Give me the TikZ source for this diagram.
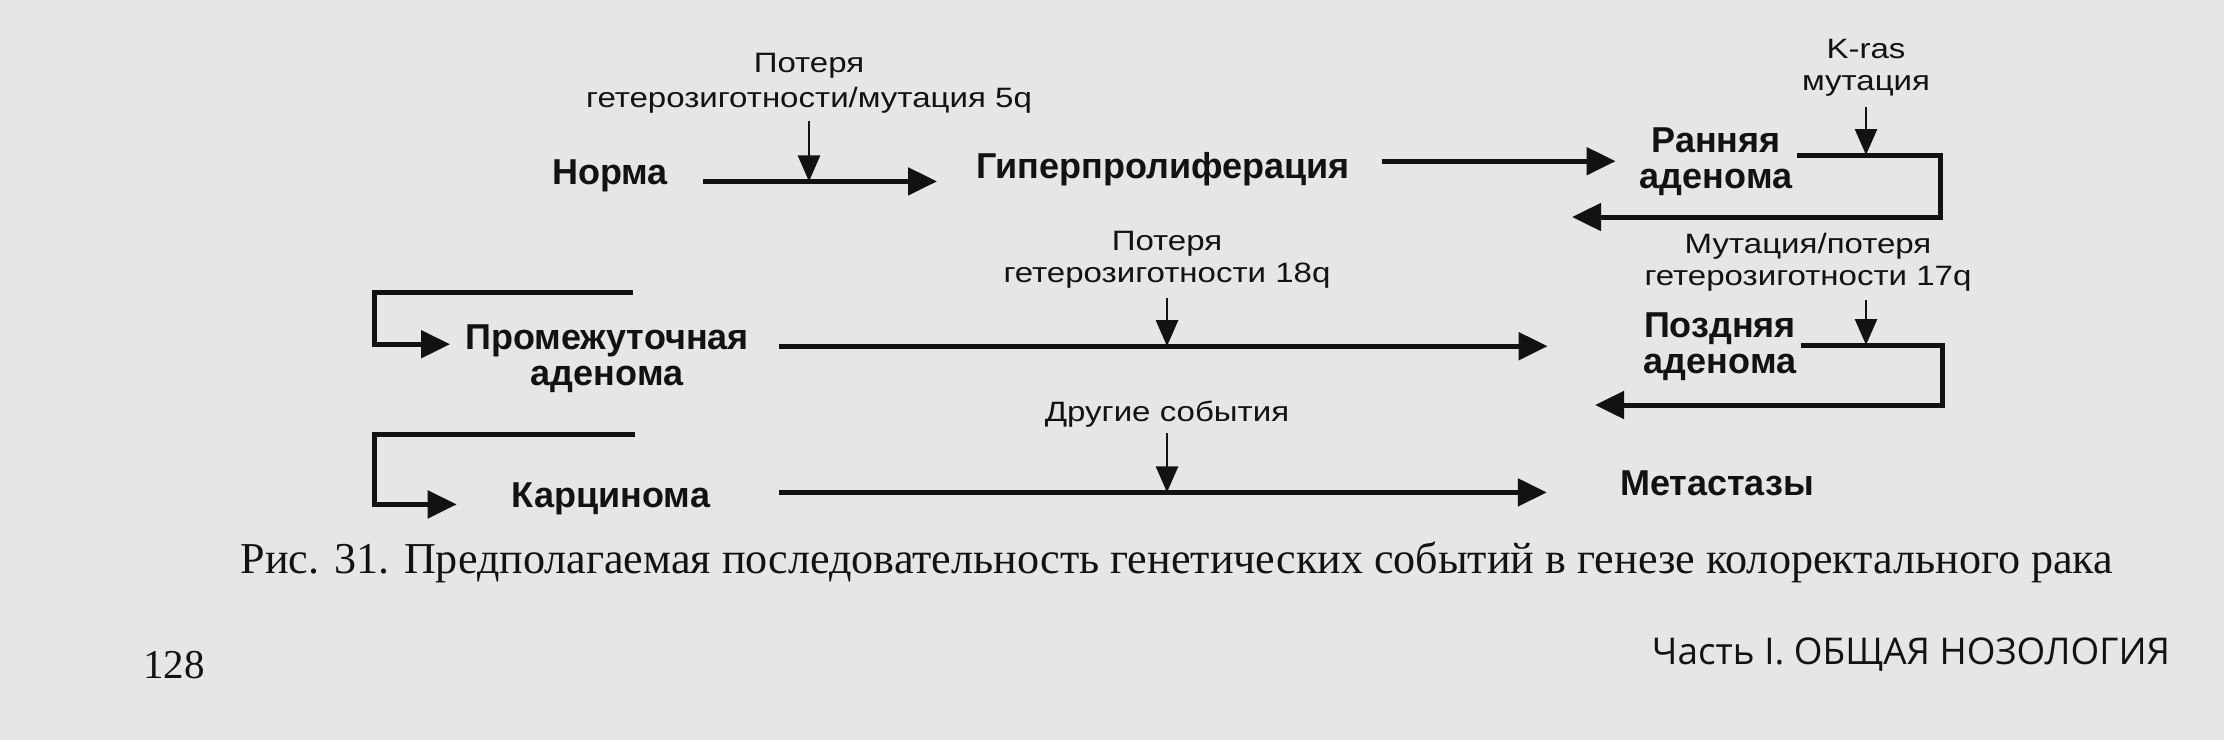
\documentclass[tikz,border=0pt]{standalone}
\usepackage{fontspec}
\setmainfont{Liberation Serif}
\newfontfamily\nodefont{Liberation Sans}
\newfontfamily\labfont[FakeStretch=1.18]{Liberation Sans}
\newfontfamily\partfont{Open Sans}
\usetikzlibrary{arrows.meta}
\definecolor{paper}{RGB}{230,230,230}
\definecolor{ink}{RGB}{18,18,18}
\begin{document}
\begin{tikzpicture}[x=1pt,y=-1pt,
  stage/.style={inner sep=0pt, anchor=base, align=center, text=ink,
    font=\nodefont\bfseries\fontsize{36pt}{36pt}\selectfont},
  single/.style={stage, text height=0.72em, text depth=0.2em},
  evt/.style={inner sep=0pt, anchor=base, align=center, text=ink,
    font=\labfont\fontsize{28pt}{32pt}\selectfont},
  flow/.style={draw=ink, line width=5pt, -{Triangle[length=29pt,width=27pt]}},
  trigger/.style={draw=ink, line width=2.6pt, -{Triangle[length=26pt,width=22pt]}},
  wrap/.style={flow, shorten <=5pt},
  plain/.style={inner sep=0pt, anchor=base, text=ink}
]
\fill[paper] (0,0) rectangle (2224,740);
\useasboundingbox (0,0) rectangle (2224,740);

% stages (multi-line nodes: base anchor = baseline of the last line)
\node[single] (norma) at (610,184) {Норма};
\node[single] (hyper) at (1163,178) {Гиперпролиферация};
\node[stage]  (early) at (1716,188) {Ранняя\\аденома};
\node[stage]  (inter) at (607,385) {Промежуточная\\аденома};
\node[stage]  (late)  at (1720,373) {Поздняя\\аденома};
\node[single] (carc)  at (611,507) {Карцинома};
\node[single] (meta)  at (1717,495) {Метастазы};

% events
\node[evt, font=\labfont\fontsize{28pt}{35pt}\selectfont] (l5q) at (809,107) {Потеря\\гетерозиготности/мутация 5q};
\node[evt] (lkras)  at (1866,90)  {K-ras\\мутация};
\node[evt] (l18)    at (1167,282) {Потеря\\гетерозиготности 18q};
\node[evt] (l17)    at (1808,285) {Мутация/потеря\\гетерозиготности 17q};
\node[evt] (lother) at (1167,421) {Другие события};

% bend points and free ends
\coordinate (eb) at (1940,155);
\coordinate (e1) at (1572,217);
\coordinate (lb) at (1942,345);
\coordinate (l1) at (1595,405);
\coordinate (w2) at (633,292);
\coordinate (w3) at (635,434);

% main flow
\draw[flow, shorten <=35pt, shorten >=39pt] (norma.east) -- (norma.east -| hyper.west);
\draw[flow, shorten <=32pt, shorten >=24pt] (hyper.east |- early.west) -- (early.west);
\draw[wrap] (early.east |- eb) -- (eb) |- (e1);
\draw[flow, shorten >=15pt] (w2) -- ++(-259,0) |- ([yshift=14pt]inter.west);
\draw[flow, shorten <=30pt, shorten >=96pt] (inter.east |- late.west) -- (late.west);
\draw[wrap] (late.east |- lb) -- (lb) |- (l1);
\draw[flow, shorten >=55pt] (w3) -- ++(-261,0) |- (carc.west);
\draw[flow, shorten <=30pt, shorten >=73pt] (inter.east |- meta.west) -- (meta.west);

% triggering events
\draw[trigger, shorten <=8pt]  (l5q.south) -- (l5q.south |- norma.east);
\draw[trigger, shorten <=11pt] (lkras.south) -- (lkras.south |- eb);
\draw[trigger, shorten <=10pt] (l18.south) -- (l18.south |- late.west);
\draw[trigger, shorten <=9pt]  (l17.south -| lkras.south) -- (lkras.south |- lb);
\draw[trigger, shorten <=6pt]  (lother.south) -- (lother.south |- meta.west);

% caption and page furniture
\node[plain] (caption) at (1177,573) {\resizebox{1872pt}{!}{Рис. 31. Предполагаемая последовательность генетических событий в генезе колоректального рака}};
\node[plain] (page) at (174,678) {\fontsize{41pt}{41pt}\selectfont 128};
\node[plain] (part) at (1911,664) {\resizebox{518pt}{!}{\partfont Часть I. ОБЩАЯ НОЗОЛОГИЯ}};
\end{tikzpicture}
\end{document}
